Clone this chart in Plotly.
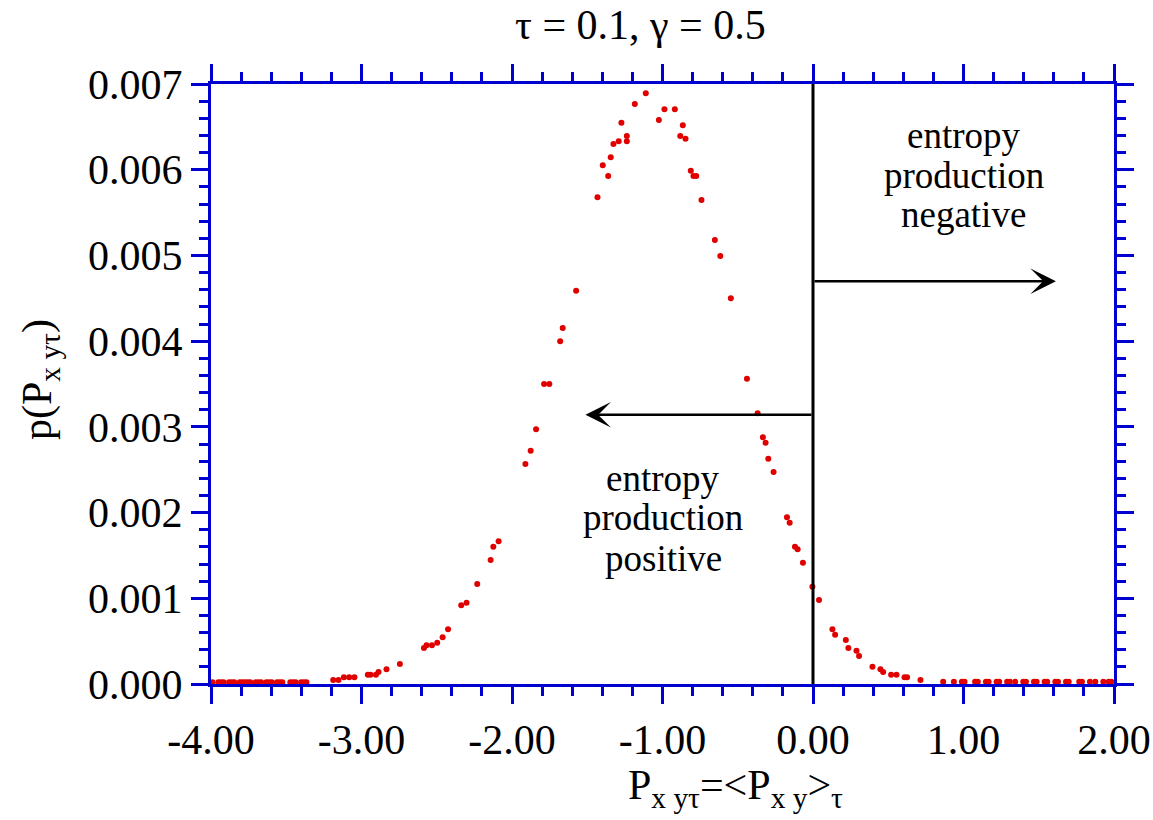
import plotly.graph_objects as go

# ---- data ----
x_vals = [
    -3.99, -3.951, -3.933, -3.916, -3.880, -3.862, -3.845, -3.809, -3.792, -3.774,
    -3.756, -3.739, -3.703, -3.685, -3.667, -3.632, -3.614, -3.596, -3.561, -3.543,
    -3.526, -3.473, -3.455, -3.437, -3.401, -3.383, -3.366,
    -3.188, -3.153, -3.117, -3.082, -3.047, -2.958, -2.940, -2.904, -2.887, -2.834,
    -2.745, -2.585, -2.568, -2.532, -2.497, -2.461, -2.425, -2.337, -2.302, -2.231,
    -2.142, -2.124, -2.089, -1.911, -1.876, -1.840, -1.787, -1.752, -1.680, -1.663,
    -1.574, -1.432, -1.397, -1.361, -1.344, -1.326, -1.291, -1.273, -1.237, -1.237,
    -1.184, -1.111, -1.024, -0.987, -0.918, -0.882, -0.865, -0.847, -0.812, -0.794,
    -0.776, -0.741, -0.652, -0.616, -0.546, -0.439, -0.368, -0.333, -0.315, -0.297,
    -0.262, -0.173, -0.155, -0.120, -0.102, -0.067, -0.004, 0.040, 0.129, 0.147,
    0.218, 0.235, 0.289, 0.306, 0.395, 0.448, 0.466, 0.519, 0.555, 0.608, 0.625,
    0.714,
    0.865, 0.936, 0.989, 1.007, 1.077, 1.095, 1.149, 1.167, 1.220, 1.237, 1.290,
    1.308, 1.344, 1.397, 1.415, 1.468, 1.486, 1.539, 1.556, 1.610, 1.628, 1.681,
    1.699, 1.769, 1.787, 1.840, 1.876, 1.929, 1.965, 1.982,
]
y_vals = [
    0.00002, 0.00002, 0.00002, 0.00002, 0.00002, 0.00002, 0.00002, 0.00002, 0.00002, 0.00002,
    0.00002, 0.00002, 0.00002, 0.00002, 0.00002, 0.00002, 0.00002, 0.00002, 0.00002, 0.00002,
    0.00002, 0.00002, 0.00002, 0.00002, 0.00002, 0.00002, 0.00002,
    0.000047, 0.000047, 0.000078, 0.000078, 0.000078, 0.000109, 0.000109, 0.000109, 0.00014, 0.000171,
    0.000233, 0.00042, 0.000451, 0.000451, 0.000482, 0.000545, 0.000638, 0.000918, 0.000949, 0.001167,
    0.001447, 0.001602, 0.001665, 0.002567, 0.002722, 0.002971, 0.0035, 0.0035, 0.003998, 0.004153,
    0.004589, 0.005678, 0.006052, 0.005927, 0.006145, 0.0063, 0.006332, 0.006549, 0.006332, 0.006393,
    0.006767, 0.006892, 0.00658, 0.006705, 0.006705, 0.006393, 0.006518, 0.006362, 0.005988, 0.005927,
    0.005927, 0.005647, 0.00518, 0.004993, 0.0045, 0.003562, 0.003158, 0.002878, 0.002815, 0.002629,
    0.002473, 0.001945, 0.001882, 0.001602, 0.001572, 0.001415, 0.001135, 0.00098, 0.000638, 0.000575,
    0.000513, 0.00042, 0.000389, 0.000327, 0.000202, 0.000171, 0.00014, 0.000109, 0.000109, 0.000078, 0.000078,
    0.000047,
    0.000025, 0.000025, 0.000025, 0.000025, 0.000025, 0.000025, 0.000025, 0.000025, 0.000025, 0.000025, 0.000025,
    0.000025, 0.000025, 0.000025, 0.000025, 0.000025, 0.000025, 0.000025, 0.000025, 0.000025, 0.000025, 0.000025,
    0.000025, 0.000025, 0.000025, 0.000025, 0.000025, 0.000025, 0.000025, 0.000025,
]

x_tick_vals = [-4, -3, -2, -1, 0, 1, 2]
x_tick_text = ["-4.00", "-3.00", "-2.00", "-1.00", "0.00", "1.00", "2.00"]
y_tick_vals = [0, 0.001, 0.002, 0.003, 0.004, 0.005, 0.006, 0.007]
y_tick_text = ["0.000", "0.001", "0.002", "0.003", "0.004", "0.005", "0.006", "0.007"]

title_text = "τ = 0.1, γ = 0.5"
x_title = "P<sub>x yτ</sub>=&lt;P<sub>x y</sub>&gt;<sub>τ</sub>"
y_title = "p(P<sub>x yτ</sub>)"
label_neg = ["entropy", "production", "negative"]
label_pos = ["entropy", "production", "positive"]

FONT = "Liberation Serif"
AX = "#0000d0"

fig = go.Figure()
fig.add_trace(go.Scatter(
    x=x_vals, y=y_vals, mode="markers",
    marker=dict(color="#e00000", size=6, line=dict(width=0)),
    cliponaxis=False, showlegend=False,
))

axis_common = dict(
    showline=True, linecolor=AX, linewidth=3, mirror="allticks",
    ticks="outside", tickcolor=AX, tickwidth=3, ticklen=17,
    showgrid=False, zeroline=False, automargin=False,
    tickfont=dict(family=FONT, size=42, color="black"),
)

fig.update_layout(
    width=1153, height=820,
    margin=dict(l=211, r=39, t=84, b=136, autoexpand=False),
    paper_bgcolor="white", plot_bgcolor="white",
    font=dict(family=FONT, color="black"),
    xaxis=dict(range=[-4, 2], tickvals=x_tick_vals, ticktext=x_tick_text,
               minor=dict(dtick=0.2, tick0=0, ticks="outside", ticklen=9, tickwidth=3, tickcolor=AX, showgrid=False),
               **axis_common),
    yaxis=dict(range=[0, 0.007], tickvals=y_tick_vals, ticktext=y_tick_text,
               minor=dict(dtick=0.0002, tick0=0, ticks="outside", ticklen=9, tickwidth=3, tickcolor=AX, showgrid=False),
               **axis_common),
)

# vertical line at x = 0
fig.add_shape(type="line", x0=0, x1=0, y0=0, y1=0.007, xref="x", yref="y",
              line=dict(color="black", width=3))

# arrows
fig.add_annotation(x=1.614, y=0.0047, ax=0, ay=0.0047, xref="x", yref="y", axref="x", ayref="y",
                   text="", showarrow=True, arrowhead=3, arrowsize=1.7, arrowwidth=2.5, arrowcolor="black")
fig.add_annotation(x=-1.512, y=0.00314, ax=0, ay=0.00314, xref="x", yref="y", axref="x", ayref="y",
                   text="", showarrow=True, arrowhead=3, arrowsize=1.7, arrowwidth=2.5, arrowcolor="black")

neg_y = [0.006405, 0.005938, 0.005472]
pos_y = [0.002403, 0.001937, 0.00147]
for t, yy in zip(label_neg, neg_y):
    fig.add_annotation(x=1.0, y=yy, xref="x", yref="y", text=t, showarrow=False,
                       font=dict(family=FONT, size=37, color="black"), xanchor="center", yanchor="middle")
for t, yy in zip(label_pos, pos_y):
    fig.add_annotation(x=-0.994, y=yy, xref="x", yref="y", text=t, showarrow=False,
                       font=dict(family=FONT, size=37, color="black"), xanchor="center", yanchor="middle")

# title
fig.add_annotation(x=(640 - 211) / 903, y=(684 - 25) / 600, xref="paper", yref="paper",
                   text=title_text, showarrow=False, xanchor="center", yanchor="middle",
                   font=dict(family=FONT, size=42, color="black"))
# x axis title
fig.add_annotation(x=(735 - 211) / 903, y=(684 - 788) / 600, xref="paper", yref="paper",
                   text=x_title, showarrow=False, xanchor="center", yanchor="middle",
                   font=dict(family=FONT, size=42, color="black"))
# y axis title
fig.add_annotation(x=(40 - 211) / 903, y=(684 - 380) / 600, xref="paper", yref="paper",
                   text=y_title, showarrow=False, xanchor="center", yanchor="middle", textangle=-90,
                   font=dict(family=FONT, size=42, color="black"))

fig.write_html("out.html")
